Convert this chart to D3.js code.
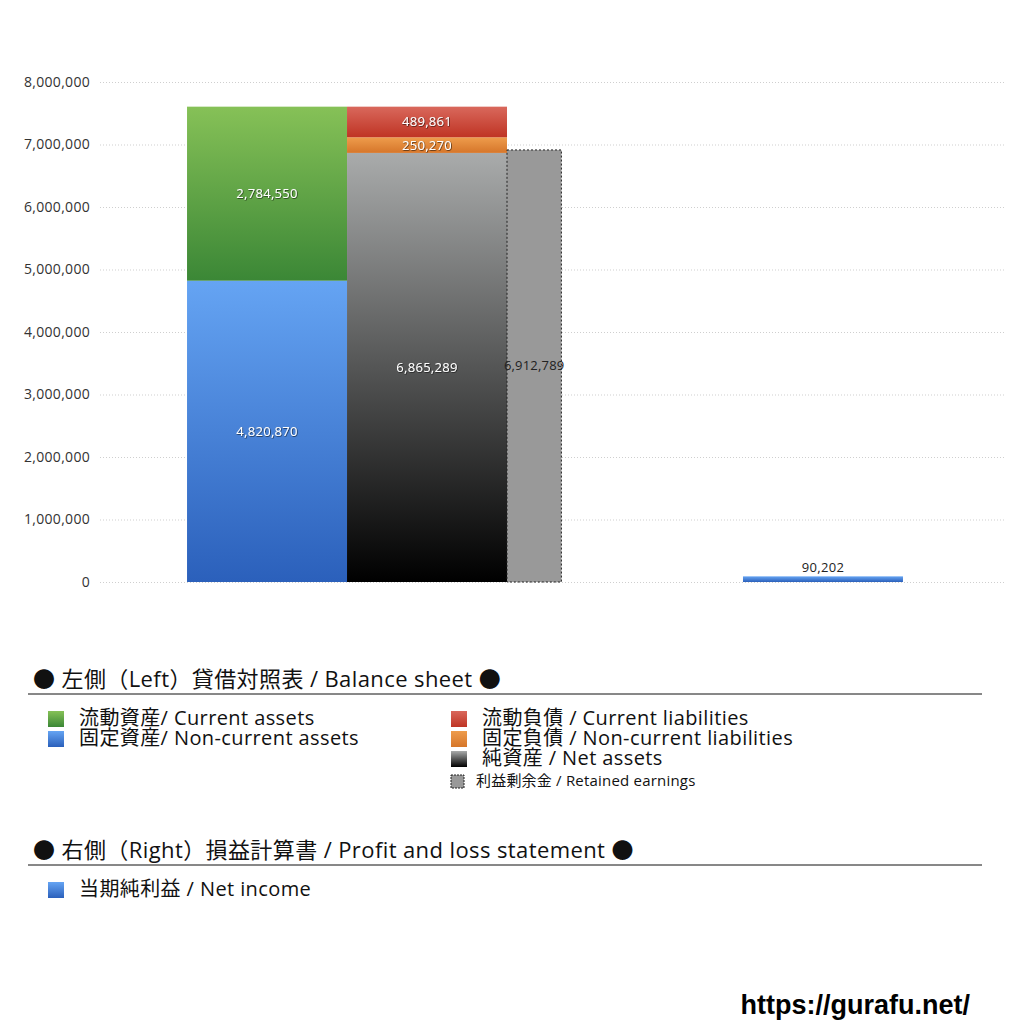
<!DOCTYPE html>
<html>
<head>
  <meta charset="utf-8">
  <title>Balance sheet</title>
  <script src="https://d3js.org/d3.v7.min.js"></script>
  <style>
    body { margin: 0; background: white; }
    svg { font-family: "Open Sans", "Noto Sans CJK JP", sans-serif; }
  </style>
</head>
<body>
  <div id="graphContainer"></div>
  <script>
    // values
    var assetNames = ["固定資産/ Non-current assets", "流動資産/ Current assets"];
    var assetValues = [4820870, 2784550];
    var liabNames = ["純資産 / Net assets", "固定負債 / Non-current liabilities", "流動負債 /  Current liabilities"];
    var liabValues = [6865289, 250270, 489861];
    var retainedEarnings = [6912789];
    var netIncome = [90202];
    var yTicks = [0, 1000000, 2000000, 3000000, 4000000, 5000000, 6000000, 7000000, 8000000];

    var width = 1024;
    var height = 1024;
    var fmt = d3.format(",");

    var svg = d3.select("#graphContainer")
      .append("svg")
        .attr("width", width)
        .attr("height", height);

    var defs = svg.append("defs");
    function grad(id, top, bottom) {
      var g = defs.append("linearGradient")
        .attr("id", id).attr("x1", 0).attr("y1", 0).attr("x2", 0).attr("y2", 1);
      g.append("stop").attr("offset", "0%").attr("stop-color", top);
      g.append("stop").attr("offset", "100%").attr("stop-color", bottom);
    }
    grad("gGreen", "#86c157", "#3b8736");
    grad("gBlue", "#65a4f3", "#2b60bb");
    grad("gRed", "#d9685c", "#bf3424");
    grad("gOrange", "#ee9c4c", "#d6762a");
    grad("gBlack", "#a9abab", "#000000");
    var shadow = defs.append("filter").attr("id", "shadow");
    shadow.append("feDropShadow").attr("dx", 0.6).attr("dy", 0.6)
      .attr("stdDeviation", 0.4).attr("flood-color", "#000").attr("flood-opacity", 0.8);

    var assetFills = ["url(#gBlue)", "url(#gGreen)"];
    var liabFills = ["url(#gBlack)", "url(#gOrange)", "url(#gRed)"];

    // x in bar-slot units (one slot = one bar width)
    var x = d3.scaleLinear().domain([-0.544, 5.119]).range([100, 1006]);
    var y = d3.scaleLinear().domain([0, 8000000]).range([582, 82]);

    // grid + axis
    var yAxis = d3.axisLeft(y).tickValues(yTicks).tickFormat(fmt).tickSize(-(1006 - 100)).tickPadding(10);
    var ax = svg.append("g").attr("transform", "translate(100,0)").call(yAxis);
    ax.select(".domain").remove();
    ax.selectAll(".tick line").attr("stroke", "#cfcfcf").attr("stroke-dasharray", "1,2");
    ax.selectAll(".tick text").attr("font-size", 14).attr("fill", "#333")
      .attr("letter-spacing", 0.3)
      .attr("font-family", "'Open Sans', sans-serif");

    function stack(vals) {
      var acc = 0;
      return vals.map(function (v) { var s = acc; acc += v; return [s, acc]; });
    }

    function drawStack(slot, vals, fills) {
      var st = stack(vals);
      var g = svg.append("g");
      g.selectAll("rect").data(st).join("rect")
        .attr("x", x(slot)).attr("width", x(slot + 1) - x(slot))
        .attr("y", function (d) { return y(d[1]); })
        .attr("height", function (d) { return y(d[0]) - y(d[1]); })
        .attr("fill", function (d, i) { return fills[i]; });
      g.selectAll("text").data(st).join("text")
        .attr("x", (x(slot) + x(slot + 1)) / 2)
        .attr("y", function (d) { return (y(d[0]) + y(d[1])) / 2 + 4.5; })
        .attr("text-anchor", "middle")
        .attr("font-size", 13)
        .attr("letter-spacing", 0.3)
        .attr("fill", "white")
        .attr("filter", "url(#shadow)")
        .text(function (d, i) { return fmt(vals[i]); });
    }

    drawStack(0, assetValues, assetFills);
    drawStack(1, liabValues, liabFills);

    // retained earnings
    svg.selectAll(".re").data(retainedEarnings).join("rect")
      .attr("class", "re")
      .attr("x", x(2)).attr("width", x(2.34) - x(2))
      .attr("y", function (d) { return y(d); })
      .attr("height", function (d) { return y(0) - y(d); })
      .attr("fill", "#999").attr("stroke", "#222").attr("stroke-dasharray", "2,2").attr("stroke-width", 1);
    svg.selectAll(".reT").data(retainedEarnings).join("text")
      .attr("class", "reT")
      .attr("x", (x(2) + x(2.34)) / 2)
      .attr("y", function (d) { return (y(0) + y(d)) / 2 + 4.5; })
      .attr("text-anchor", "middle").attr("font-size", 13).attr("letter-spacing", 0.2).attr("fill", "#222")
      .text(function (d) { return fmt(d); });

    // net income
    svg.selectAll(".ni").data(netIncome).join("rect")
      .attr("class", "ni")
      .attr("x", x(3.475)).attr("width", x(4.475) - x(3.475))
      .attr("y", function (d) { return y(d); })
      .attr("height", function (d) { return y(0) - y(d); })
      .attr("fill", "url(#gBlue)");
    svg.selectAll(".niT").data(netIncome).join("text")
      .attr("class", "niT")
      .attr("x", (x(3.475) + x(4.475)) / 2)
      .attr("y", function (d) { return y(d) - 4; })
      .attr("text-anchor", "middle").attr("font-size", 13).attr("letter-spacing", 0.3).attr("fill", "#222")
      .text(function (d) { return fmt(d); });

    // legend
    function header(txt, yy) {
      svg.append("text").attr("x", 33).attr("y", yy).attr("font-size", 22)
        .attr("letter-spacing", 0.4).attr("fill", "#111").text(txt);
      svg.append("line").attr("x1", 28).attr("x2", 982).attr("y1", yy + 7).attr("y2", yy + 7)
        .attr("stroke", "#111").attr("stroke-width", 1);
    }
    function item(xx, yy, fill, txt, small) {
      var s = small ? 13 : 16;
      svg.append("rect").attr("x", xx).attr("y", yy - s + 2).attr("width", s).attr("height", s)
        .attr("fill", fill)
        .attr("stroke", small ? "#222" : "none").attr("stroke-dasharray", "2,1");
      svg.append("text").attr("x", xx + (small ? 25 : 31)).attr("y", yy)
        .attr("font-size", small ? 15 : 20).attr("letter-spacing", small ? 0.2 : 0.4)
        .attr("fill", "#111").text(txt);
    }

    header("● 左側（Left）貸借対照表 / Balance sheet ●", 687);
    item(48, 725, "url(#gGreen)", assetNames[1]);
    item(48, 745, "url(#gBlue)", assetNames[0]);
    item(451, 725, "url(#gRed)", liabNames[2]);
    item(451, 745, "url(#gOrange)", liabNames[1]);
    item(451, 765, "url(#gBlack)", liabNames[0]);
    item(451, 786, "#999", "利益剰余金 / Retained earnings", true);

    header("● 右側（Right）損益計算書 / Profit and loss statement ●", 858);
    item(48, 896, "url(#gBlue)", "当期純利益 / Net income");

    svg.append("text").attr("x", 970).attr("y", 1014).attr("text-anchor", "end")
      .attr("font-size", 27).attr("font-weight", "bold").attr("fill", "#000")
      .attr("font-family", "'Liberation Sans', sans-serif")
      .text("https://gurafu.net/");
  </script>
</body>
</html>
